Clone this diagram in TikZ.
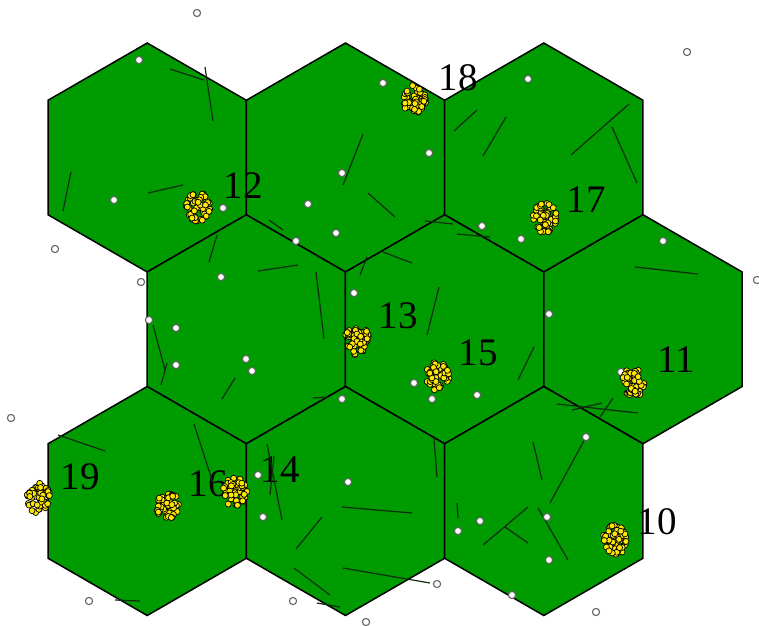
\documentclass[tikz,border=0pt]{standalone}
\usepackage{fontspec}
\setmainfont{Liberation Serif}
\definecolor{cellgreen}{RGB}{0,155,0}
\definecolor{dotyellow}{RGB}{255,232,0}
\definecolor{dotgray}{RGB}{100,100,100}
\definecolor{trackdark}{RGB}{15,45,15}

\tikzset{
  hexcell/.style={draw=black, line width=1.5pt, fill=cellgreen, line join=miter},
  userdot/.style={draw=dotgray, fill=white, line width=1.1pt},
  clusterdot/.style={draw=black, fill=dotyellow, line width=0.7pt},
  track/.style={draw=trackdark, line width=1.2pt},
  celllabel/.style={inner sep=0pt, font=\fontsize{39}{39}\selectfont}
}

% cluster of yellow users: x, y, seed
\newcommand{\drawcluster}[3]{%
  \pgfmathsetseed{#3}%
  \foreach \k in {1,...,55}{%
    \pgfmathsetmacro{\ang}{360*rnd}%
    \pgfmathsetmacro{\rad}{sqrt(rnd)}%
    \path[clusterdot] (#1,#2) ++({12*\rad*cos(\ang)},{15*\rad*sin(\ang)}) circle[radius=3];
  }}

\begin{document}
\begin{tikzpicture}[x=1pt, y=-1pt]
    \useasboundingbox (0,0) rectangle (759,625);

    % cells
    \foreach \cx/\cy in {147.2/157.5, 345.5/157.5, 543.8/157.5,
                         246.3/329.25, 444.6/329.25, 643/329.25,
                         147.2/501, 345.5/501, 543.8/501}
        \draw[hexcell, shift={(\cx,\cy)}] (30:114.5) -- (90:114.5) -- (150:114.5)
            -- (210:114.5) -- (270:114.5) -- (330:114.5) -- cycle;

    % cell numbers
    \node[celllabel] (lab12) at (243,186) {12};
    \node[celllabel] (lab18) at (458,78) {18};
    \node[celllabel] (lab17) at (586,200) {17};
    \node[celllabel] (lab13) at (398,316) {13};
    \node[celllabel] (lab15) at (478,353) {15};
    \node[celllabel] (lab11) at (676,360) {11};
    \node[celllabel] (lab19) at (80,477) {19};
    \node[celllabel] (lab16) at (208,484) {16};
    \node[celllabel] (lab14) at (280,470) {14};
    \node[celllabel] (lab10) at (657,522) {10};

    % short tracks
    \foreach \ax/\ay/\bx/\by in {170/69/204/80, 205/67/213/121, 71/172/63/211,
        148/193/183/185, 217/235/209/262, 363/134/343/185, 368/193/395/217,
        269/220/283/230, 258/271/298/265, 316/272/324/339, 367/257/360/275,
        454/131/477/110, 483/156/506/117, 571/155/629/104, 612/127/637/183,
        425/221/453/224, 457/234/490/237, 383/252/412/263, 635/267/698/274,
        439/287/427/335, 153/325/165/370, 167/363/161/385, 235/378/222/399,
        313/398/328/397, 58/435/105/451, 194/424/213/483, 267/444/282/520,
        274/456/270/495, 322/517/296/549, 342/507/412/513, 294/568/330/595,
        343/568/430/583, 317/603/340/607, 115/600/140/601, 534/347/518/380,
        557/404/638/413, 572/410/602/403, 613/398/600/417, 434/439/437/477,
        533/442/542/480, 586/437/550/503, 457/503/458/518, 528/507/483/545,
        505/527/528/543, 538/508/568/560}
        \draw[track] (\ax,\ay) -- (\bx,\by);

    % single users
    \foreach \ux/\uy in {197/13, 139/60, 114/200, 223/208, 55/249, 141/282,
        221/277, 149/320, 342/173, 308/204, 336/233, 296/241, 354/293,
        687/52, 528/79, 383/83, 429/153, 482/226, 521/239, 663/241, 549/314,
        757/280, 176/328, 176/365, 246/359, 252/371, 342/399, 11/418,
        258/475, 263/517, 348/482, 89/601, 293/601, 366/622, 414/383,
        432/399, 477/395, 621/372, 586/437, 480/521, 458/531, 547/517,
        549/560, 437/584, 512/595, 596/612}
        \path[userdot] (\ux,\uy) circle[radius=3.6];

    % hot spots
    \drawcluster{198}{207}{12}
    \drawcluster{415}{100}{18}
    \drawcluster{545}{218}{17}
    \drawcluster{357}{340}{13}
    \drawcluster{437}{377}{15}
    \drawcluster{633}{383}{11}
    \drawcluster{38}{498}{19}
    \drawcluster{168}{507}{16}
    \drawcluster{235}{492}{14}
    \drawcluster{615}{540}{10}
\end{tikzpicture}
\end{document}
